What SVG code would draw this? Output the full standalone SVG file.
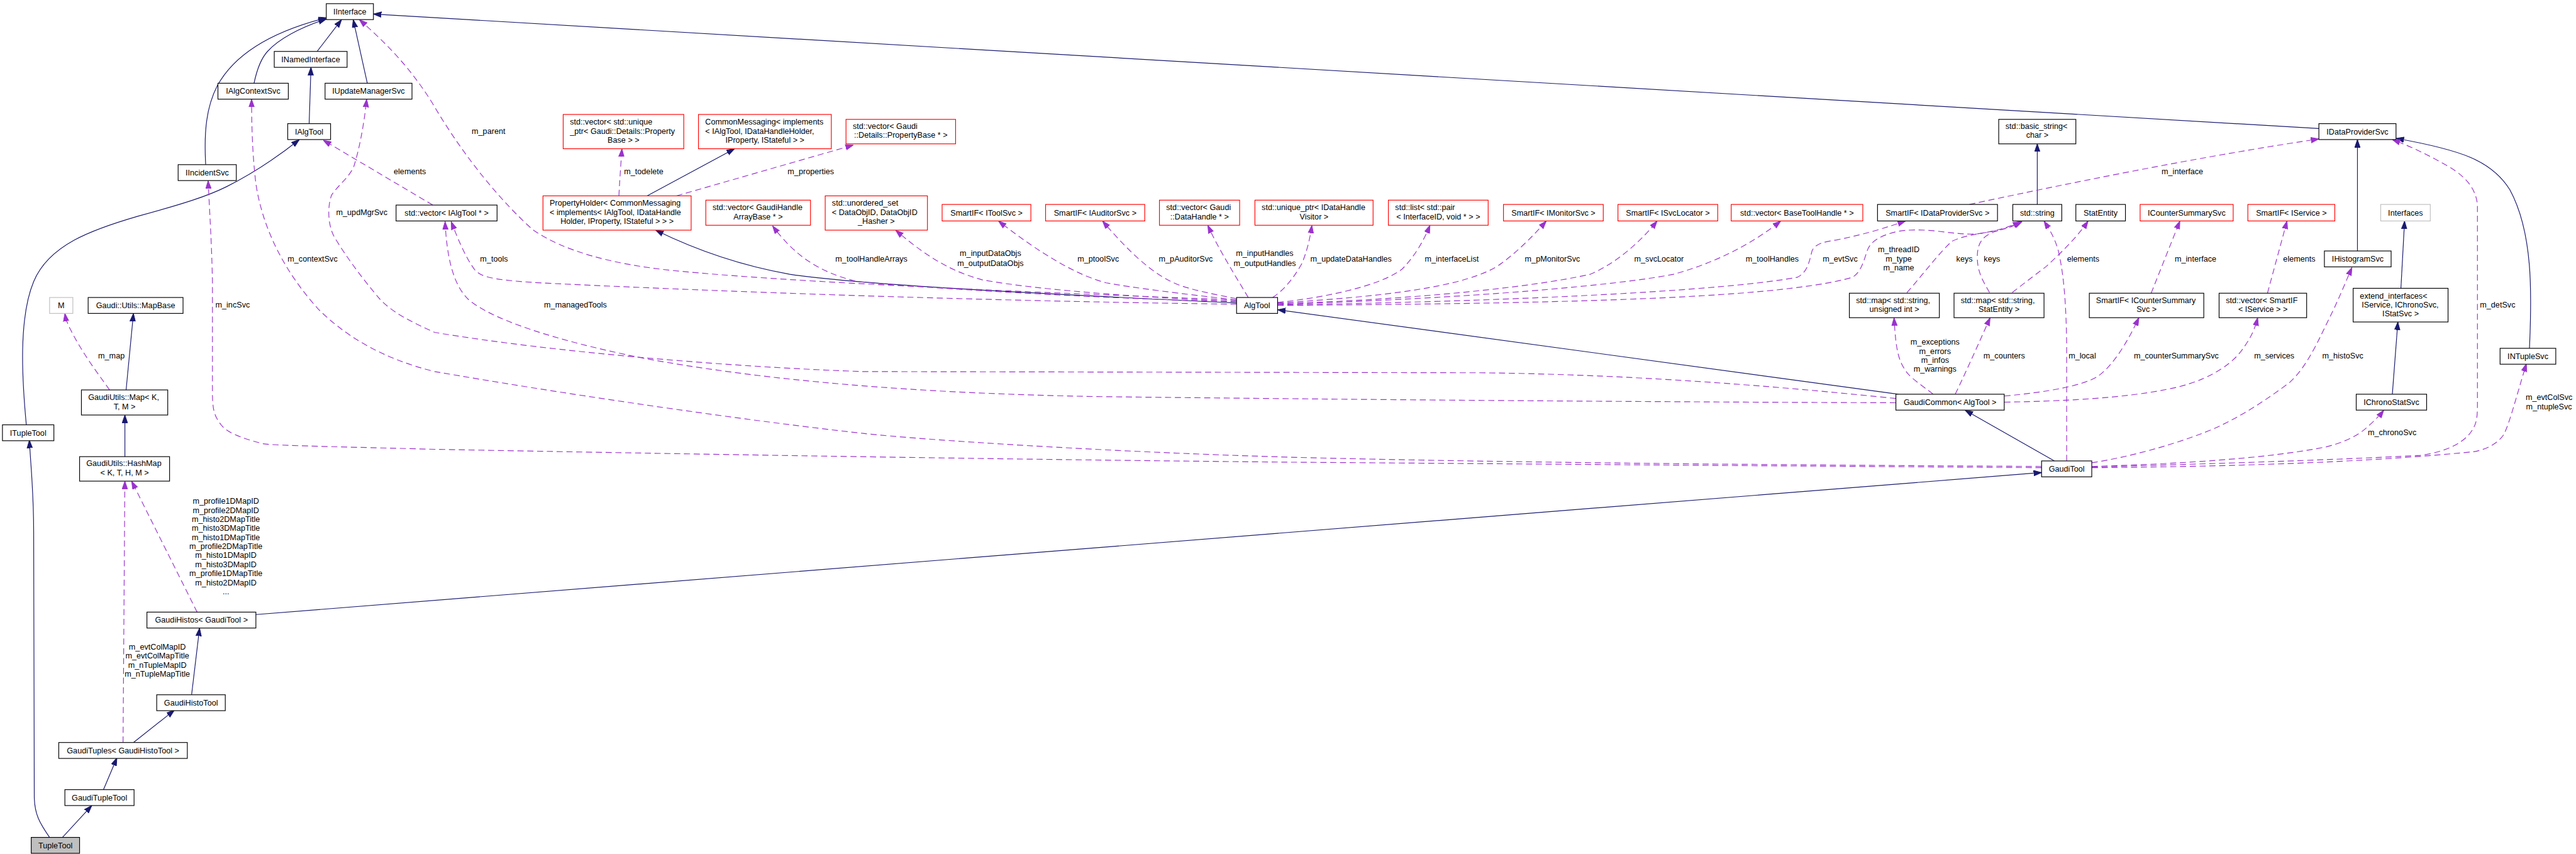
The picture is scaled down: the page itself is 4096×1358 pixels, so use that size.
<svg xmlns="http://www.w3.org/2000/svg" width="4096" height="1358" viewBox="0 0 4096 1358">
<defs>
<style>
text{font-family:"Liberation Sans",Arial,Helvetica,sans-serif;font-size:13px;fill:#000}
.m{text-anchor:middle}
.nb{fill:#fff;stroke:#000;stroke-width:1.2}
.nr{fill:#fff;stroke:#ff0000;stroke-width:1.2}
.ng{fill:#fff;stroke:#bfbfbf;stroke-width:1.2}
.nf{fill:#bfbfbf;stroke:#000;stroke-width:1.2}
.e{fill:none;stroke:#191970;stroke-width:1.2;marker-end:url(#an)}
.d{fill:none;stroke:#9a32cd;stroke-width:1.2;stroke-dasharray:10,6;marker-end:url(#ap)}
</style>
<marker id="an" markerWidth="13" markerHeight="10" refX="13" refY="5" orient="auto" markerUnits="userSpaceOnUse"><path d="M0,0.5 L13,5 L0,9.5 z" fill="#191970" stroke="#191970" stroke-width="1"/></marker>
<marker id="ap" markerWidth="13" markerHeight="10" refX="13" refY="5" orient="auto" markerUnits="userSpaceOnUse"><path d="M0,0.5 L13,5 L0,9.5 z" fill="#9a32cd" stroke="#9a32cd" stroke-width="1"/></marker>
</defs>
<rect x="0" y="0" width="4096" height="1358" fill="#fff"/>
<g transform="scale(0.97338)">
<g id="edges">
<path class="e" d="M518,84 L558,32"/>
<path class="e" d="M415,136 C420,112 426,96 437,84 C455,64 490,45 533,31"/>
<path class="e" d="M336,269 C333,215 337,175 355,140 C385,85 450,50 533,29"/>
<path class="e" d="M600,136 L577,32"/>
<path class="e" d="M505,202 L508,110"/>
<path class="e" d="M43,694 C36,620 30,520 55,460 C80,400 150,375 226,353 C300,333 340,320 370,305 C410,285 455,255 489,228"/>
<path class="e" d="M81,1368 C65,1345 56,1330 56,1300 L55,870 C55,800 50,760 48,719"/>
<path class="e" d="M102,1368 L150,1316"/>
<path class="e" d="M169,1290 L191,1238"/>
<path class="e" d="M218,1213 L285,1160"/>
<path class="e" d="M313,1135 L326,1026"/>
<path class="e" d="M418,1004 L3335,772"/>
<path class="e" d="M206,637 L218,512"/>
<path class="e" d="M204,746 L204,678"/>
<path class="e" d="M3328,334 L3328,235"/>
<path class="e" d="M3101,644 L2087,506"/>
<path class="e" d="M3356,753 L3210,670"/>
<path class="e" d="M2020,495 C1700,480 1400,465 1290,448 C1200,432 1130,405 1071,376"/>
<path class="e" d="M1057,320 L1200,243"/>
<path class="e" d="M3922,471 L3928,361"/>
<path class="e" d="M3908,644 L3917,526"/>
<path class="e" d="M3851,410 L3851,228"/>
<path class="e" d="M4132,569 C4136,480 4138,380 4100,310 C4070,262 4020,245 3914,226"/>
<path class="e" d="M3788,210 L610,23"/>

<path class="d" d="M2020,490 C1700,478 1300,462 1100,442 C1000,432 920,410 870,375 C820,330 760,260 706,168 C670,110 630,70 587,32"/>
<path class="d" d="M2020,497 C1700,493 1300,482 900,463 C800,458 785,452 775,440 C760,420 748,390 737,362"/>
<path class="d" d="M3097,658 C2800,657 2300,654 1800,648 C1500,643 1250,622 1050,585 C900,555 800,520 765,489 C740,465 730,420 727,362"/>
<path class="d" d="M3097,651 C2950,636 2700,612 2417,609 L1410,607 C1200,600 900,575 710,543 C670,525 640,510 620,488 C600,465 565,420 545,385 C535,365 535,335 542,318 C555,300 570,290 578,272 C588,240 595,200 599,162"/>
<path class="d" d="M3335,762 C3000,760 2500,757 2110,747 C1800,738 1500,718 1410,708 C1200,685 900,640 710,607 C620,585 560,545 520,505 C470,450 430,380 418,300 C412,250 411,200 411,162"/>
<path class="d" d="M3335,764 C3000,762 2500,758 2100,755 C1800,752 1400,747 710,734 C560,730 450,728 430,725 C390,715 370,705 362,695 C350,680 347,670 347,640 L347,460 C346,400 342,340 340,295"/>
<path class="d" d="M707,335 L528,229"/>
<path class="d" d="M1011,320 C1012,300 1014,270 1016,243"/>
<path class="d" d="M1105,320 L1394,237"/>
<path class="d" d="M2020,493 C1800,488 1500,470 1400,460 C1340,445 1300,420 1262,369"/>
<path class="d" d="M2020,492 C1900,488 1700,475 1604,457 C1560,445 1520,425 1463,376"/>
<path class="d" d="M2020,490 C1930,480 1850,470 1807,462 C1760,450 1700,415 1631,361"/>
<path class="d" d="M2020,488 C1980,480 1960,476 1943,471 C1900,460 1860,430 1801,361"/>
<path class="d" d="M2039,486 C2030,470 2020,455 2011,439 C2000,420 1985,395 1973,368"/>
<path class="d" d="M2079,486 C2095,475 2110,460 2127,430 C2135,410 2140,390 2143,368"/>
<path class="d" d="M2087,494 C2150,488 2250,470 2290,440 C2310,420 2325,395 2336,368"/>
<path class="d" d="M2087,495 C2250,485 2400,470 2453,430 C2480,410 2505,385 2526,361"/>
<path class="d" d="M2087,496 C2300,490 2500,470 2598,448 C2640,430 2680,395 2707,361"/>
<path class="d" d="M2087,497 C2400,488 2650,465 2734,448 C2800,430 2860,400 2909,361"/>
<path class="d" d="M2087,498 C2400,494 2800,478 2936,453 C2952,445 2955,430 2960,410 C2965,398 2980,395 3000,392 C3050,382 3080,372 3113,361"/>
<path class="d" d="M2087,499 C2500,496 2900,490 3026,453 C3040,445 3045,425 3050,410 C3055,395 3070,385 3100,378 C3150,370 3190,385 3230,382 C3260,378 3285,370 3301,362"/>
<path class="d" d="M3217,334 C3400,295 3600,255 3788,227"/>
<path class="d" d="M3115,478 C3140,450 3170,410 3189,394 C3210,383 3250,380 3270,375 C3285,372 3295,366 3303,362"/>
<path class="d" d="M3250,478 C3240,460 3230,445 3230,420 C3230,395 3240,385 3260,378 C3280,372 3295,366 3303,362"/>
<path class="d" d="M3287,478 C3310,460 3330,445 3343,435 C3370,410 3395,385 3411,361"/>
<path class="d" d="M3158,644 C3140,630 3125,620 3117,611 C3100,590 3097,570 3094,519"/>
<path class="d" d="M3194,644 C3215,600 3235,555 3251,519"/>
<path class="d" d="M3376,753 L3376,560 C3375,500 3372,450 3362,408 C3355,385 3346,372 3339,361"/>
<path class="d" d="M3274,647 C3350,640 3400,630 3425,616 C3450,600 3475,560 3494,519"/>
<path class="d" d="M3274,657 C3380,655 3470,650 3540,636 C3600,625 3640,600 3660,575 C3675,555 3683,540 3688,519"/>
<path class="d" d="M3514,479 L3561,361"/>
<path class="d" d="M3704,479 L3736,361"/>
<path class="d" d="M3417,756 C3470,748 3540,730 3600,707 C3650,688 3700,655 3740,625 C3770,598 3790,550 3805,520 C3820,490 3832,460 3842,437"/>
<path class="d" d="M3417,762 C3550,758 3700,750 3800,730 C3840,720 3860,705 3870,695 C3880,686 3888,678 3894,670"/>
<path class="d" d="M3417,763 C3600,758 3800,752 3953,744 C4000,738 4030,720 4040,700 C4046,690 4047,680 4047,660 L4047,335 C4045,310 4030,290 4000,272 C3970,255 3940,240 3908,228"/>
<path class="d" d="M3417,764 C3700,762 3900,752 4040,738 C4060,735 4080,725 4090,710 C4100,690 4110,650 4127,594"/>
<path class="d" d="M179,637 C160,610 140,585 118,544 C112,532 108,525 106,512"/>
<path class="d" d="M322,1000 L215,786"/>
<path class="d" d="M201,1213 L204,786"/>
</g>
<g id="edge-labels">
<text class="m" x="798" y="218.5">m_parent</text>
<text class="m" x="669.5" y="284.5">elements</text>
<text class="m" x="591" y="351">m_updMgrSvc</text>
<text class="m" x="510.6" y="427">m_contextSvc</text>
<text class="m" x="380" y="502">m_incSvc</text>
<text class="m" x="182" y="585.5">m_map</text>
<text class="m" x="1051.5" y="284.5">m_todelete</text>
<text class="m" x="1324.5" y="284.5">m_properties</text>
<text class="m" x="807" y="427">m_tools</text>
<text class="m" x="940" y="502">m_managedTools</text>
<text class="m" x="1423.5" y="427">m_toolHandleArrays</text>
<text class="m" x="1618" y="418.5">m_inputDataObjs</text>
<text class="m" x="1618" y="434.5">m_outputDataObjs</text>
<text class="m" x="1794" y="427">m_ptoolSvc</text>
<text class="m" x="1937" y="427">m_pAuditorSvc</text>
<text class="m" x="2066" y="418.5">m_inputHandles</text>
<text class="m" x="2066" y="434.5">m_outputHandles</text>
<text class="m" x="2207" y="427">m_updateDataHandles</text>
<text class="m" x="2371.5" y="427">m_interfaceList</text>
<text class="m" x="2536" y="427">m_pMonitorSvc</text>
<text class="m" x="2710" y="427">m_svcLocator</text>
<text class="m" x="2895" y="427">m_toolHandles</text>
<text class="m" x="3006" y="427">m_evtSvc</text>
<text class="m" x="3101.6" y="411.5">m_threadID</text>
<text class="m" x="3101.6" y="427">m_type</text>
<text class="m" x="3101.6" y="442">m_name</text>
<text class="m" x="3209" y="427">keys</text>
<text class="m" x="3254" y="427">keys</text>
<text class="m" x="3403" y="427">elements</text>
<text class="m" x="3565" y="284.5">m_interface</text>
<text class="m" x="3586.5" y="427">m_interface</text>
<text class="m" x="3756" y="427">elements</text>
<text class="m" x="3161" y="563.5">m_exceptions</text>
<text class="m" x="3161" y="578">m_errors</text>
<text class="m" x="3161" y="592.5">m_infos</text>
<text class="m" x="3161" y="607.5">m_warnings</text>
<text class="m" x="3274" y="585.5">m_counters</text>
<text class="m" x="3401.5" y="585.5">m_local</text>
<text class="m" x="3555" y="585.5">m_counterSummarySvc</text>
<text class="m" x="3715" y="585.5">m_services</text>
<text class="m" x="3827" y="585.5">m_histoSvc</text>
<text class="m" x="4080" y="502">m_detSvc</text>
<text class="m" x="4164" y="653.5">m_evtColSvc</text>
<text class="m" x="4164" y="668.5">m_ntupleSvc</text>
<text class="m" x="3907.6" y="710.5">m_chronoSvc</text>
<text class="m" x="369" y="823">m_profile1DMapID</text>
<text class="m" x="369" y="838">m_profile2DMapID</text>
<text class="m" x="369" y="852.5">m_histo2DMapTitle</text>
<text class="m" x="369" y="867.5">m_histo3DMapTitle</text>
<text class="m" x="369" y="882">m_histo1DMapTitle</text>
<text class="m" x="369" y="897">m_profile2DMapTitle</text>
<text class="m" x="369" y="911.5">m_histo1DMapID</text>
<text class="m" x="369" y="926.5">m_histo3DMapID</text>
<text class="m" x="369" y="941">m_profile1DMapTitle</text>
<text class="m" x="369" y="956">m_histo2DMapID</text>
<text class="m" x="369" y="970.5">...</text>
<text class="m" x="257" y="1061.5">m_evtColMapID</text>
<text class="m" x="257" y="1076">m_evtColMapTitle</text>
<text class="m" x="257" y="1091">m_nTupleMapID</text>
<text class="m" x="257" y="1105.5">m_nTupleMapTitle</text>
</g>
<g id="n1"><rect class="nb" x="533" y="6" width="77" height="26"/><text class="m" x="571.5" y="23.5">IInterface</text></g>
<g id="n2"><rect class="nb" x="448" y="84" width="119" height="26"/><text class="m" x="507.5" y="101.5">INamedInterface</text></g>
<g id="n3"><rect class="nb" x="356" y="136" width="115" height="26"/><text class="m" x="413.5" y="153.5">IAlgContextSvc</text></g>
<g id="n4"><rect class="nb" x="531" y="136" width="142" height="26"/><text class="m" x="602" y="153.5">IUpdateManagerSvc</text></g>
<g id="n5"><rect class="nb" x="470" y="202" width="70" height="26"/><text class="m" x="505" y="219.5">IAlgTool</text></g>
<g id="n6"><rect class="nb" x="291" y="269" width="95" height="26"/><text class="m" x="338.5" y="286.5">IIncidentSvc</text></g>
<g id="n7"><rect class="nb" x="647" y="335" width="165" height="26"/><text class="m" x="729.5" y="352.5">std::vector&lt; IAlgTool * &gt;</text></g>
<g id="n8"><rect class="ng" x="81" y="486" width="38" height="26"/><text class="m" x="100" y="503.5">M</text></g>
<g id="n9"><rect class="nb" x="144" y="486" width="155" height="26"/><text class="m" x="221.5" y="503.5">Gaudi::Utils::MapBase</text></g>
<g id="n10"><rect class="nb" x="133" y="637" width="141" height="41"/><text x="144" y="653.5">GaudiUtils::Map&lt; K,</text><text class="m" x="203.5" y="668.5">T, M &gt;</text></g>
<g id="n11"><rect class="nb" x="4" y="694" width="84" height="26"/><text class="m" x="46" y="711.5">ITupleTool</text></g>
<g id="n12"><rect class="nb" x="130" y="746" width="147" height="40"/><text x="141" y="761.5">GaudiUtils::HashMap</text><text class="m" x="203.5" y="776.5">&lt; K, T, H, M &gt;</text></g>
<g id="n13"><rect class="nb" x="240" y="1000" width="178" height="26"/><text class="m" x="329" y="1017.5">GaudiHistos&lt; GaudiTool &gt;</text></g>
<g id="n14"><rect class="nb" x="256" y="1135" width="112" height="26"/><text class="m" x="312" y="1152.5">GaudiHistoTool</text></g>
<g id="n15"><rect class="nb" x="96" y="1213" width="210" height="26"/><text class="m" x="201" y="1230.5">GaudiTuples&lt; GaudiHistoTool &gt;</text></g>
<g id="n16"><rect class="nb" x="106" y="1290" width="113" height="26"/><text class="m" x="162.5" y="1307.5">GaudiTupleTool</text></g>
<g id="n17"><rect class="nf" x="51" y="1368" width="79" height="26"/><text class="m" x="90.5" y="1385.5">TupleTool</text></g>
<g id="n18"><rect class="nr" x="920" y="187" width="197" height="56"/><text x="931" y="203.8">std::vector&lt; std::unique</text><text x="931" y="218.5">_ptr&lt; Gaudi::Details::Property</text><text class="m" x="1018.5" y="233.5">Base &gt; &gt;</text></g>
<g id="n19"><rect class="nr" x="1141" y="187" width="217" height="56"/><text x="1152" y="203.8">CommonMessaging&lt; implements</text><text x="1152" y="218.5">&lt; IAlgTool, IDataHandleHolder,</text><text class="m" x="1249.5" y="233.5">IProperty, IStateful &gt; &gt;</text></g>
<g id="n20"><rect class="nr" x="1382" y="195" width="179" height="40"/><text x="1393" y="210.5">std::vector&lt; Gaudi</text><text class="m" x="1471.5" y="225.5">::Details::PropertyBase * &gt;</text></g>
<g id="n21"><rect class="nr" x="887" y="320" width="242" height="56"/><text x="898" y="336">PropertyHolder&lt; CommonMessaging</text><text x="898" y="351">&lt; implements&lt; IAlgTool, IDataHandle</text><text class="m" x="1008" y="366">Holder, IProperty, IStateful &gt; &gt; &gt;</text></g>
<g id="n22"><rect class="nr" x="1153" y="327" width="171" height="41"/><text x="1164" y="343.5">std::vector&lt; GaudiHandle</text><text class="m" x="1238.5" y="358.5">ArrayBase * &gt;</text></g>
<g id="n23"><rect class="nr" x="1348" y="320" width="167" height="56"/><text x="1359" y="336">std::unordered_set</text><text x="1359" y="351">&lt; DataObjID, DataObjID</text><text class="m" x="1431.5" y="366">_Hasher &gt;</text></g>
<g id="n24"><rect class="nr" x="1539" y="334" width="145" height="27"/><text class="m" x="1611.5" y="352">SmartIF&lt; IToolSvc &gt;</text></g>
<g id="n25"><rect class="nr" x="1708" y="334" width="162" height="27"/><text class="m" x="1789" y="352">SmartIF&lt; IAuditorSvc &gt;</text></g>
<g id="n26"><rect class="nr" x="1894" y="327" width="131" height="41"/><text x="1905" y="343.5">std::vector&lt; Gaudi</text><text class="m" x="1959.5" y="358.5">::DataHandle * &gt;</text></g>
<g id="n27"><rect class="nr" x="2050" y="327" width="193" height="41"/><text x="2061" y="343.5">std::unique_ptr&lt; IDataHandle</text><text class="m" x="2146.5" y="358.5">Visitor &gt;</text></g>
<g id="n28"><rect class="nb" x="2020" y="486" width="67" height="26"/><text class="m" x="2053.5" y="503.5">AlgTool</text></g>
<g id="n29"><rect class="nr" x="2268" y="327" width="163" height="41"/><text x="2279" y="343.5">std::list&lt; std::pair</text><text class="m" x="2349.5" y="358.5">&lt; InterfaceID, void * &gt; &gt;</text></g>
<g id="n30"><rect class="nr" x="2456" y="334" width="163" height="27"/><text class="m" x="2537.5" y="352">SmartIF&lt; IMonitorSvc &gt;</text></g>
<g id="n31"><rect class="nr" x="2643" y="334" width="163" height="27"/><text class="m" x="2724.5" y="352">SmartIF&lt; ISvcLocator &gt;</text></g>
<g id="n32"><rect class="nr" x="2828" y="334" width="215" height="27"/><text class="m" x="2935.5" y="352">std::vector&lt; BaseToolHandle * &gt;</text></g>
<g id="n33"><rect class="nb" x="3067" y="334" width="196" height="27"/><text class="m" x="3165" y="352">SmartIF&lt; IDataProviderSvc &gt;</text></g>
<g id="n34"><rect class="nb" x="3288" y="334" width="80" height="27"/><text class="m" x="3328" y="352">std::string</text></g>
<g id="n35"><rect class="nb" x="3391" y="334" width="81" height="27"/><text class="m" x="3431.5" y="352">StatEntity</text></g>
<g id="n36"><rect class="nr" x="3496" y="334" width="152" height="27"/><text class="m" x="3572" y="352">ICounterSummarySvc</text></g>
<g id="n37"><rect class="nb" x="3265" y="195" width="126" height="40"/><text x="3276" y="210.5">std::basic_string&lt;</text><text class="m" x="3328" y="225.5">char &gt;</text></g>
<g id="n38"><rect class="nb" x="3021" y="479" width="147" height="40"/><text x="3032" y="495">std::map&lt; std::string,</text><text class="m" x="3094.5" y="510">unsigned int &gt;</text></g>
<g id="n39"><rect class="nb" x="3192" y="479" width="147" height="40"/><text x="3203" y="495">std::map&lt; std::string,</text><text class="m" x="3265.5" y="510">StatEntity &gt;</text></g>
<g id="n40"><rect class="nb" x="3413" y="479" width="187" height="40"/><text x="3424" y="495">SmartIF&lt; ICounterSummary</text><text class="m" x="3506.5" y="510">Svc &gt;</text></g>
<g id="n41"><rect class="nb" x="3097" y="644" width="177" height="26"/><text class="m" x="3185.5" y="661.5">GaudiCommon&lt; AlgTool &gt;</text></g>
<g id="n42"><rect class="nb" x="3788" y="202" width="126" height="26"/><text class="m" x="3851" y="219.5">IDataProviderSvc</text></g>
<g id="n43"><rect class="nr" x="3672" y="334" width="142" height="27"/><text class="m" x="3743" y="352">SmartIF&lt; IService &gt;</text></g>
<g id="n44"><rect class="ng" x="3889" y="334" width="81" height="27"/><text class="m" x="3929.5" y="352">Interfaces</text></g>
<g id="n45"><rect class="nb" x="3797" y="410" width="109" height="26"/><text class="m" x="3851.5" y="427.5">IHistogramSvc</text></g>
<g id="n46"><rect class="nb" x="3625" y="479" width="143" height="40"/><text x="3636" y="495">std::vector&lt; SmartIF</text><text class="m" x="3696.5" y="510">&lt; IService &gt; &gt;</text></g>
<g id="n47"><rect class="nb" x="3844" y="471" width="155" height="55"/><text x="3855" y="487.7">extend_interfaces&lt;</text><text x="3858" y="502.2">IService, IChronoSvc,</text><text class="m" x="3921.5" y="517.2">IStatSvc &gt;</text></g>
<g id="n48"><rect class="nb" x="3849" y="644" width="115" height="26"/><text class="m" x="3906.5" y="661.5">IChronoStatSvc</text></g>
<g id="n49"><rect class="nb" x="4084" y="569" width="91" height="26"/><text class="m" x="4129.5" y="586.5">INTupleSvc</text></g>
<g id="n50"><rect class="nb" x="3335" y="753" width="82" height="26"/><text class="m" x="3376" y="770.5">GaudiTool</text></g>
</g>
</svg>
